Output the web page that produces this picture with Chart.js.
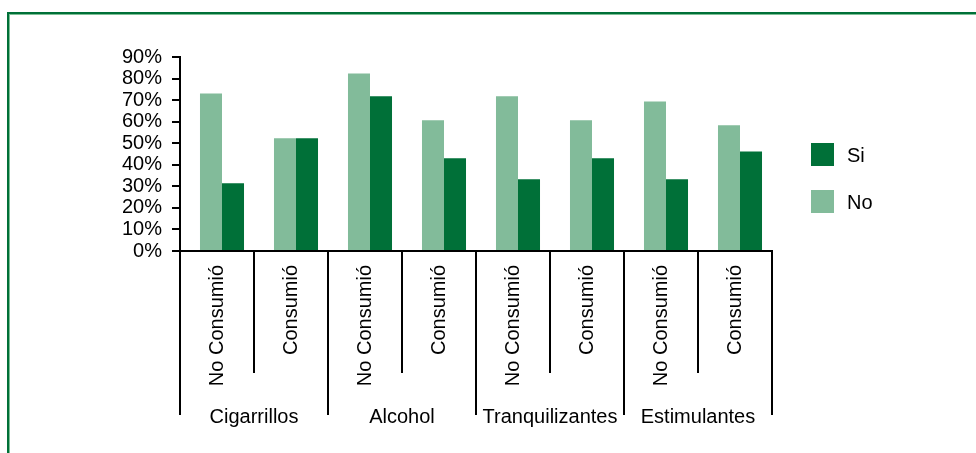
<!DOCTYPE html>
<html>
<head>
<meta charset="utf-8">
<script src="https://cdn.jsdelivr.net/npm/chart.js@4"></script>
<style>
  body { margin: 0; background: #fff; }
  .wrap { position: relative; width: 976px; height: 453px; overflow: hidden; }
  .frame {
    position: absolute; left: 7px; top: 12px; width: 1200px; height: 600px;
    border-top: 2px solid #007038; border-left: 2.5px solid #007038;
    box-shadow: inset 1px 1px 0 #7dbf96;
  }
  canvas { position: absolute; left: 0; top: 0; }
</style>
</head>
<body>
<div class="wrap">
  <div class="frame"></div>
  <canvas id="myChart" width="976" height="453"></canvas>
</div>
<script>
// data
const categories = ['No Consumió', 'Consumió', 'No Consumió', 'Consumió',
                    'No Consumió', 'Consumió', 'No Consumió', 'Consumió'];
const groups = ['Cigarrillos', 'Alcohol', 'Tranquilizantes', 'Estimulantes'];
const noValues = [73.1, 52.3, 82.4, 60.6, 71.8, 60.6, 69.4, 58.3];
const siValues = [31.4, 52.3, 71.8, 43.0, 33.3, 43.0, 33.3, 46.2];
const yMax = 90;
const yStep = 10;

const FONT = { family: "'Liberation Sans', Arial, sans-serif", size: 20 };

// bars in the original sit a few px right of the category centre
const shiftBars = {
    id: 'shiftBars',
    beforeDatasetsDraw(chart) { chart.ctx.save(); chart.ctx.translate(5, 0); },
    afterDatasetsDraw(chart) { chart.ctx.restore(); }
};

// divider lines + group names under the rotated labels
const groupAxis = {
    id: 'groupAxis',
    afterDraw(chart) {
        const x = chart.scales.x;
        const ctx = chart.ctx;
        const n = categories.length;
        const w = x.width / n;
        ctx.save();
        ctx.strokeStyle = '#000';
        ctx.lineWidth = 2;
        for (let i = 0; i <= n; i++) {
            const bx = Math.round(x.left + i * w);
            const len = i % 2 === 0 ? 164 : 122;
            ctx.beginPath();
            ctx.moveTo(bx, x.top);
            ctx.lineTo(bx, x.top + len);
            ctx.stroke();
        }
        ctx.fillStyle = '#000';
        ctx.font = FONT.size + 'px ' + FONT.family;
        ctx.textAlign = 'center';
        ctx.textBaseline = 'alphabetic';
        groups.forEach((g, k) => {
            const cx = x.left + (2 * k + 1) * w;
            ctx.fillText(g, cx, x.top + 172);
        });
        ctx.restore();
    }
};

// legend on the right, Si above No
const sideLegend = {
    id: 'sideLegend',
    afterDraw(chart) {
        const ctx = chart.ctx;
        const area = chart.chartArea;
        const items = chart.data.datasets.slice().reverse();
        ctx.save();
        ctx.font = FONT.size + 'px ' + FONT.family;
        ctx.textBaseline = 'middle';
        ctx.textAlign = 'left';
        items.forEach((ds, i) => {
            const bx = area.right + 39;
            const by = 143 + i * 47;
            ctx.fillStyle = ds.backgroundColor;
            ctx.fillRect(bx, by, 23, 23);
            ctx.fillStyle = '#000';
            ctx.fillText(ds.label, bx + 36, by + 13);
        });
        ctx.restore();
    }
};

const ctx = document.getElementById('myChart');
new Chart(ctx, {
    type: 'bar',
    data: {
        labels: categories,
        datasets: [
            {
                label: 'No',
                data: noValues,
                backgroundColor: '#82bb9a',
                categoryPercentage: 0.595,
                barPercentage: 1
            },
            {
                label: 'Si',
                data: siValues,
                backgroundColor: '#007038',
                categoryPercentage: 0.595,
                barPercentage: 1
            }
        ]
    },
    options: {
        responsive: false,
        animation: false,
        layout: { padding: { top: 57, right: 204, left: 0, bottom: 0 } },
        plugins: {
            legend: { display: false },
            tooltip: { enabled: false }
        },
        scales: {
            x: {
                afterFit: s => { s.height = 202; },
                grid: { display: false },
                border: { display: true, color: '#000', width: 2 },
                ticks: {
                    autoSkip: false,
                    minRotation: 90,
                    maxRotation: 90,
                    padding: 6,
                    color: '#000',
                    font: FONT
                }
            },
            y: {
                min: 0,
                max: yMax,
                afterFit: s => { s.width = 180; },
                grid: { drawOnChartArea: false, tickLength: 8, color: '#000', lineWidth: 2 },
                border: { display: true, color: '#000', width: 2 },
                ticks: {
                    autoSkip: false,
                    stepSize: yStep,
                    padding: 10,
                    color: '#000',
                    font: FONT,
                    callback: v => v + '%'
                }
            }
        }
    },
    plugins: [shiftBars, groupAxis, sideLegend]
});
</script>
</body>
</html>
